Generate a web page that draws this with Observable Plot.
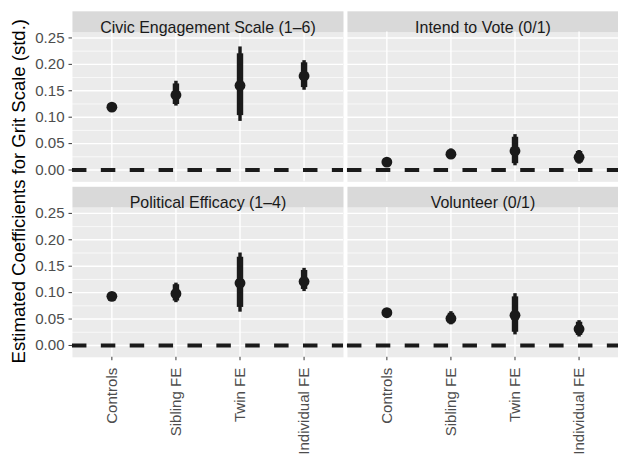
<!DOCTYPE html>
<html>
<head>
<meta charset="utf-8">
<script src="https://cdn.jsdelivr.net/npm/d3@7"></script>
<script src="https://cdn.jsdelivr.net/npm/@observablehq/plot@0.6"></script>
<style>
  html, body { margin: 0; padding: 0; background: #fff; overflow: hidden; }
  #chart { position: relative; width: 618px; height: 461px; overflow: hidden; }
</style>
</head>
<body>
<div id="chart"></div>
<script>
// ---- data ----
const panelTitles = ["Civic Engagement Scale (1–6)", "Intend to Vote (0/1)", "Political Efficacy (1–4)", "Volunteer (0/1)"];
const panelCol = [0, 1, 0, 1];
const panelRow = [0, 0, 1, 1];
const models = ["Controls", "Sibling FE", "Twin FE", "Individual FE"];
const yTicks = [0, 0.05, 0.10, 0.15, 0.20, 0.25];
const yMinor = [0.025, 0.075, 0.125, 0.175, 0.225];
const yTitle = "Estimated Coefficients for Grit Scale (std.)";

// estimates and intervals per panel (order of models)
const estCivic  = [0.119, 0.142, 0.160, 0.178];
const lo95Civic = [0.114, 0.121, 0.092, 0.151];
const hi95Civic = [0.124, 0.168, 0.233, 0.207];
const lo90Civic = [0.115, 0.124, 0.103, 0.156];
const hi90Civic = [0.123, 0.163, 0.220, 0.203];

const estVote  = [0.015, 0.030, 0.036, 0.024];
const lo95Vote = [0.010, 0.020, 0.008, 0.011];
const hi95Vote = [0.020, 0.040, 0.067, 0.037];
const lo90Vote = [0.011, 0.022, 0.012, 0.013];
const hi90Vote = [0.019, 0.038, 0.062, 0.035];

const estEff  = [0.093, 0.098, 0.118, 0.121];
const lo95Eff = [0.088, 0.081, 0.063, 0.102];
const hi95Eff = [0.098, 0.118, 0.175, 0.146];
const lo90Eff = [0.089, 0.084, 0.072, 0.106];
const hi90Eff = [0.097, 0.115, 0.167, 0.142];

const estVol  = [0.062, 0.051, 0.057, 0.031];
const lo95Vol = [0.057, 0.039, 0.020, 0.016];
const hi95Vol = [0.067, 0.064, 0.098, 0.047];
const lo90Vol = [0.058, 0.041, 0.025, 0.019];
const hi90Vol = [0.066, 0.061, 0.092, 0.044];

const series = [
  [estCivic, lo95Civic, hi95Civic, lo90Civic, hi90Civic],
  [estVote, lo95Vote, hi95Vote, lo90Vote, hi90Vote],
  [estEff, lo95Eff, hi95Eff, lo90Eff, hi90Eff],
  [estVol, lo95Vol, hi95Vol, lo90Vol, hi90Vol]
];

// ---- tables built from the arrays ----
const panelData = panelTitles.map((t, i) => ({title: t, col: panelCol[i], row: panelRow[i]}));
const rows = [];
series.forEach(([est, lo95, hi95, lo90, hi90], p) => {
  models.forEach((m, j) => {
    rows.push({col: panelCol[p], row: panelRow[p], model: m,
      est: est[j], lo95: lo95[j], hi95: hi95[j], lo90: lo90[j], hi90: hi90[j]});
  });
});

// ---- layout ----
const W = 627, H = 461, mL = 73, mT = 32, mB = 99, colGap = 4, rowGap = 26, stripH = 21;
const panelW = (W - mL - colGap) / 2;
const panelH = (H - mT - mB - rowGap) / 2;
const ink = "#1a1a1a";
const font = "'Liberation Sans', Arial, Helvetica, sans-serif";

const chart = Plot.plot({
  width: W, height: H,
  marginLeft: mL, marginRight: 0, marginTop: mT, marginBottom: mB,
  style: {fontFamily: font, fontSize: "15px", background: "#fff", overflow: "visible"},
  fx: {domain: [0, 1], paddingInner: colGap / (panelW + colGap), paddingOuter: 0, round: false, axis: null},
  fy: {domain: [0, 1], paddingInner: rowGap / (panelH + rowGap), paddingOuter: 0, round: false, axis: null},
  x: {type: "point", domain: models, padding: 0.6, axis: null},
  y: {domain: [-0.0224, 0.2612], axis: null},
  marks: [
    Plot.frame({fill: "#ebebeb"}),
    Plot.frame({fill: "#d9d9d9", insetTop: -stripH, insetBottom: panelH}),
    Plot.gridY(yMinor, {stroke: "#fff", strokeOpacity: 1, strokeWidth: 0.7}),
    Plot.gridY(yTicks, {stroke: "#fff", strokeOpacity: 1, strokeWidth: 1.4}),
    Plot.gridX(models, {stroke: "#fff", strokeOpacity: 1, strokeWidth: 1.4}),
    Plot.axisY(yTicks, {anchor: "left", tickSize: 3.5, tickPadding: 4.5,
      tickFormat: d => d.toFixed(2), fontSize: 15.3, stroke: "#333333", fill: "#4d4d4d", label: null}),
    Plot.axisX(models, {anchor: "bottom", tickRotate: -90, tickSize: 3.5, tickPadding: 7,
      fontSize: 15.3, stroke: "#333333", fill: "#4d4d4d", label: null}),
    Plot.ruleY([0], {stroke: ink, strokeWidth: 4, strokeDasharray: "14.7,14.6"}),
    Plot.ruleX(rows, {fx: "col", fy: "row", x: "model", y1: "lo95", y2: "hi95", stroke: ink, strokeWidth: 3.5}),
    Plot.ruleX(rows, {fx: "col", fy: "row", x: "model", y1: "lo90", y2: "hi90", stroke: ink, strokeWidth: 6.5}),
    Plot.dot(rows, {fx: "col", fy: "row", x: "model", y: "est", r: 5.5, fill: ink, stroke: null}),
    Plot.text(panelData, {fx: "col", fy: "row", text: "title", frameAnchor: "top",
      dy: -stripH / 2, fill: ink, fontSize: 16.2})
  ]
});

d3.select(chart).append("text")
  .attr("transform", "translate(19,194) rotate(-90)")
  .attr("text-anchor", "middle")
  .attr("dy", "0.35em")
  .attr("font-family", font)
  .attr("font-size", 18.8)
  .attr("fill", "#000")
  .text(yTitle);

document.getElementById("chart").appendChild(chart);
</script>
</body>
</html>
